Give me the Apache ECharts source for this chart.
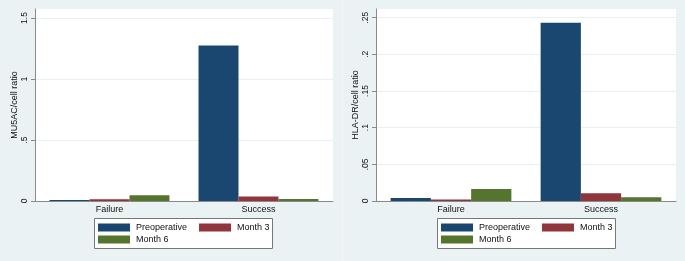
<!DOCTYPE html>
<html><head><meta charset="utf-8">
<script src="https://cdn.jsdelivr.net/npm/echarts@6/dist/echarts.min.js"></script>
<style>html,body{margin:0;padding:0;background:#eaf2f3}#c{width:685px;height:261px}</style>
</head><body><div id="c"></div>
<script>
const categories = ['Failure', 'Success'];
const seriesNames = ['Preoperative', 'Month 3', 'Month 6'];
const mucPreop = [0.008, 1.275];
const mucMonth3 = [0.014, 0.036];
const mucMonth6 = [0.047, 0.017];
const hlaPreop = [0.004, 0.243];
const hlaMonth3 = [0.002, 0.0105];
const hlaMonth6 = [0.0165, 0.005];
const mucTicks = [0, 0.5, 1, 1.5];
const hlaTicks = [0, 0.05, 0.1, 0.15, 0.2, 0.25];
const colors = ['#1a476f', '#90353b', '#55752f'];

const fmt = v => { const r = Math.round(v * 1000) / 1000; return r === 0 ? '0' : String(r).replace(/^0\./, '.'); };
const font = 'Liberation Sans, Arial, sans-serif';

function yAxis(idx, name, max, ticks) {
  return {
    type: 'value', gridIndex: idx, min: 0, max: max,
    name: name, nameLocation: 'middle', nameGap: 15,
    nameTextStyle: { fontSize: 9, color: '#111', fontFamily: font },
    axisLine: { show: true, lineStyle: { color: '#8a8a8a', width: 1 } },
    axisTick: { show: true, length: 4, lineStyle: { color: '#8a8a8a' }, customValues: ticks },
    axisLabel: { rotate: 90, fontSize: 8.5, color: '#111', margin: 6, fontFamily: font, customValues: ticks, formatter: fmt },
    splitLine: { show: true, lineStyle: { color: '#e9f0f2', width: 1 } }
  };
}
function xAxis(idx) {
  return {
    type: 'category', gridIndex: idx, data: categories,
    axisLine: { show: true, lineStyle: { color: '#8a8a8a', width: 1 } },
    axisTick: { show: false },
    axisLabel: { fontSize: 9, color: '#111', margin: 4, fontFamily: font }
  };
}
function bar(name, data, idx, ci) {
  return { type: 'bar', name: name, data: data, xAxisIndex: idx, yAxisIndex: idx,
    barGap: '0%', barCategoryGap: '19.5%', itemStyle: { color: colors[ci] }, silent: true, animation: false };
}
function legend(left, top, data) {
  return { left: left, top: top, data: data, itemWidth: 32, itemHeight: 8, itemGap: 12,
    icon: 'rect', selectedMode: false, padding: 0,
    textStyle: { fontSize: 9, color: '#111', fontFamily: font, padding: [0, 0, 0, 1] } };
}

const option = {
  backgroundColor: '#eaf2f3',
  animation: false,
  grid: [
    { left: 35, right: 352, top: 9, bottom: 60, show: true, backgroundColor: '#fff', borderWidth: 0 },
    { left: 376, right: 9, top: 9, bottom: 60, show: true, backgroundColor: '#fff', borderWidth: 0 }
  ],
  xAxis: [xAxis(0), xAxis(1)],
  yAxis: [yAxis(0, 'MU5AC/cell ratio', 1.574, mucTicks), yAxis(1, 'HLA-DR/cell ratio', 0.2618, hlaTicks)],
  legend: [
    legend(98, 223, ['Preoperative', 'Month 3']),
    legend(98, 235, ['Month 6']),
    legend(441, 223, ['Preoperative', 'Month 3']),
    legend(441, 235, ['Month 6'])
  ],
  graphic: [
    { type: 'rect', shape: { x: 94.5, y: 218.5, width: 178, height: 30 }, style: { fill: '#fff', stroke: '#777', lineWidth: 1 }, z: -1 },
    { type: 'rect', shape: { x: 437.5, y: 218.5, width: 178, height: 30 }, style: { fill: '#fff', stroke: '#777', lineWidth: 1 }, z: -1 },
    { type: 'line', shape: { x1: 342.5, y1: 0, x2: 342.5, y2: 261 }, style: { stroke: '#f3f7f8', lineWidth: 1 } }
  ],
  series: [
    bar(seriesNames[0], mucPreop, 0, 0), bar(seriesNames[1], mucMonth3, 0, 1), bar(seriesNames[2], mucMonth6, 0, 2),
    bar(seriesNames[0], hlaPreop, 1, 0), bar(seriesNames[1], hlaMonth3, 1, 1), bar(seriesNames[2], hlaMonth6, 1, 2)
  ]
};
echarts.init(document.getElementById('c'), null, { renderer: 'canvas' }).setOption(option);
</script></body></html>
